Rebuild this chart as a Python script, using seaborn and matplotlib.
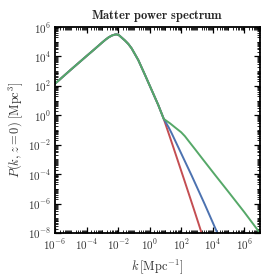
import numpy as np
import pandas as pd
import matplotlib
matplotlib.use("Agg")
import matplotlib.pyplot as plt
import matplotlib.ticker as mticker
import seaborn as sns

# ---- data (log10 values) ----
shared_logk = [-6.0, -5.0, -4.0, -3.5, -3.0, -2.8, -2.6, -2.4, -2.2, -2.09,
               -1.95, -1.8, -1.56, -1.35, -1.14, -0.72, -0.29, 0.13, 0.55, 0.9]
shared_logP = [2.15, 3.10, 4.03, 4.49, 4.96, 5.14, 5.30, 5.42, 5.49, 5.50,
               5.45, 5.31, 5.08, 4.85, 4.55, 3.76, 2.74, 1.72, 0.70, -0.25]

red_logk = [1.5, 2.2, 2.8, 3.3]
red_logP = [-2.15, -4.40, -6.35, -8.0]

blue_logk = [1.2, 1.4, 2.0, 2.67, 3.5, 4.3]
blue_logP = [-0.80, -1.22, -2.58, -4.10, -6.05, -8.0]

green_logk = [1.3, 1.61, 2.0, 2.24, 2.5, 2.88, 3.4, 4.15, 5.0, 6.0, 7.0]
green_logP = [-0.55, -0.82, -1.15, -1.42, -1.78, -2.30, -3.02, -4.05, -5.20, -6.57, -8.0]

series_names = ["red", "blue", "green"]
series_colors = ["#C44E52", "#4C72B0", "#55A868"]

frames = []
for name, lk, lp in [("red", red_logk, red_logP),
                     ("blue", blue_logk, blue_logP),
                     ("green", green_logk, green_logP)]:
    k = 10.0 ** np.array(shared_logk + lk)
    P = 10.0 ** np.array(shared_logP + lp)
    frames.append(pd.DataFrame({"k": k, "P": P, "model": name}))
df = pd.concat(frames, ignore_index=True)

sns.set_style("ticks")
plt.rcParams["font.family"] = ["DejaVu Serif"]
plt.rcParams["mathtext.fontset"] = "cm"

fig = plt.figure(figsize=(2.66, 2.76), dpi=100)
ax = fig.add_axes([0.207, 0.156, 0.770, 0.746])

sns.lineplot(data=df, x="k", y="P", hue="model", hue_order=series_names,
             palette=series_colors, estimator=None, sort=False,
             linewidth=1.4, legend=False, ax=ax)

ax.set_xscale("log")
ax.set_yscale("log")
ax.set_xlim(1e-6, 1e7)
ax.set_ylim(1e-8, 1e6)

ax.xaxis.set_major_locator(mticker.FixedLocator([10.0**e for e in range(-6, 8, 2)]))
ax.yaxis.set_major_locator(mticker.FixedLocator([10.0**e for e in range(-8, 7, 2)]))
ax.xaxis.set_minor_locator(mticker.LogLocator(base=10, subs=np.arange(1, 10), numticks=100))
ax.yaxis.set_minor_locator(mticker.LogLocator(base=10, subs=np.arange(1, 10), numticks=100))
ax.xaxis.set_minor_formatter(mticker.NullFormatter())
ax.yaxis.set_minor_formatter(mticker.NullFormatter())
ax.xaxis.set_major_formatter(mticker.FuncFormatter(lambda v, p: r"$10^{%d}$" % round(np.log10(v))))
ax.yaxis.set_major_formatter(mticker.FuncFormatter(lambda v, p: r"$10^{%d}$" % round(np.log10(v))))

ax.tick_params(which="both", direction="in", top=True, right=True, colors="black")
ax.tick_params(which="major", length=4, width=0.9, labelsize=8, labelcolor="#333333", pad=3)
ax.tick_params(which="minor", length=2, width=0.6)
for s in ax.spines.values():
    s.set_linewidth(1.3)
    s.set_color("black")

ax.set_xlabel(r"$k\,[\mathrm{Mpc}^{-1}]$", fontsize=9, color="#333333", labelpad=4)
ax.set_ylabel(r"$P(k,z=0)\;[\mathrm{Mpc}^{3}]$", fontsize=9, color="#333333", labelpad=2)
ax.set_title(r"$\mathbf{Matter\ power\ spectrum}$", fontsize=9, pad=6)

fig.savefig("out.png", dpi=100)
